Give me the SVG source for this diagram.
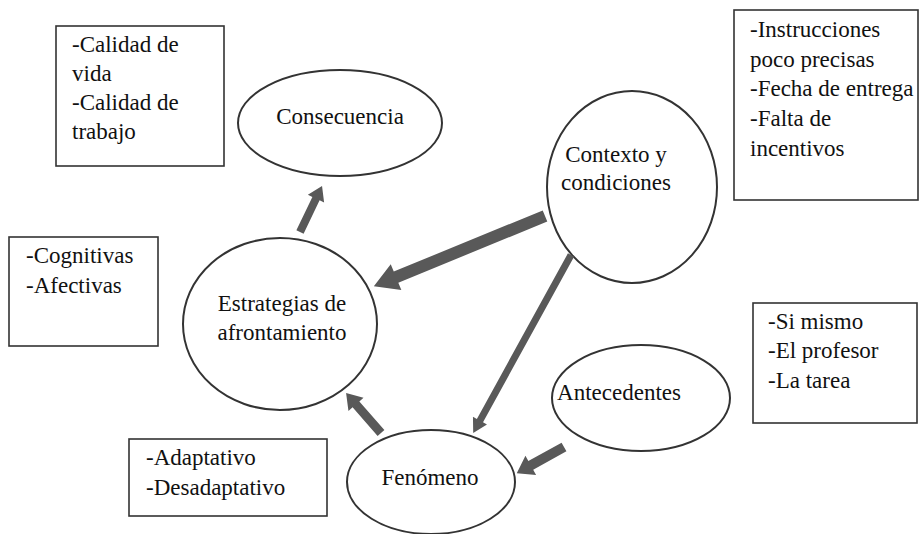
<svg xmlns="http://www.w3.org/2000/svg" width="921" height="534" viewBox="0 0 921 534" font-family="'Liberation Serif', 'DejaVu Serif', serif">
<style>
text{font-family:'Liberation Serif','DejaVu Serif',serif;font-size:23px;fill:#111}
.c{text-anchor:middle}
.ell{fill:#fff;stroke:#333;stroke-width:2}
.box{fill:#fff;stroke:#333;stroke-width:1.6}
.arr{fill:#595959}
</style>
<rect width="921" height="534" fill="#fff"/>
<g id="box-calidad"><rect class="box" x="56" y="26" width="168" height="140"/>
<text x="72" y="52">-Calidad de</text><text x="72" y="81">vida</text><text x="72" y="110">-Calidad de</text><text x="72" y="139">trabajo</text></g>
<g id="box-instrucciones"><rect class="box" x="734" y="10" width="184" height="190"/>
<text x="750" y="37">-Instrucciones</text><text x="750" y="67">poco precisas</text><text x="750" y="96">-Fecha de entrega</text><text x="750" y="126">-Falta de</text><text x="750" y="156">incentivos</text></g>
<g id="box-cognitivas"><rect class="box" x="9" y="237" width="149" height="109"/>
<text x="26" y="263">-Cognitivas</text><text x="26" y="293">-Afectivas</text></g>
<g id="box-simismo"><rect class="box" x="753" y="303" width="164" height="120"/>
<text x="768" y="329">-Si mismo</text><text x="768" y="358">-El profesor</text><text x="768" y="388">-La tarea</text></g>
<g id="box-adaptativo"><rect class="box" x="129" y="439" width="198" height="77"/>
<text x="146" y="465">-Adaptativo</text><text x="146" y="495">-Desadaptativo</text></g>
<g id="consecuencia"><ellipse class="ell" cx="340" cy="123" rx="102" ry="53"/><text class="c" x="340" y="124">Consecuencia</text></g>
<g id="estrategias"><ellipse class="ell" cx="280" cy="324" rx="97" ry="86"/><text class="c" x="282" y="311">Estrategias de</text><text class="c" x="282" y="340">afrontamiento</text></g>
<g id="contexto"><ellipse class="ell" cx="632" cy="187" rx="85" ry="96"/><text class="c" x="616" y="162">Contexto y</text><text class="c" x="616" y="190">condiciones</text></g>
<g id="antecedentes"><ellipse class="ell" cx="641" cy="398" rx="89" ry="53"/><text class="c" x="619" y="400">Antecedentes</text></g>
<g id="fenomeno"><ellipse class="ell" cx="431" cy="482" rx="84" ry="52"/><text class="c" x="430" y="485">Fenómeno</text></g>
<g id="connectors">
<polygon class="arr" transform="translate(300,232) rotate(-64.4)" points="0,-4 37,-4 37,-9 51,0 37,9 37,4 0,4"/>
<polygon class="arr" transform="translate(545,216) rotate(157.7)" points="0,-6 161,-6 161,-14 185,0 161,14 161,6 0,6"/>
<polygon class="arr" transform="translate(571,255) rotate(118.8)" points="0,-3.5 189,-3.5 189,-8 203,0 189,8 189,3.5 0,3.5"/>
<polygon class="arr" transform="translate(381,433) rotate(-131.2)" points="0,-4.5 38,-4.5 38,-10 53,0 38,10 38,4.5 0,4.5"/>
<polygon class="arr" transform="translate(564,447) rotate(151)" points="0,-5 38,-5 38,-11 54,0 38,11 38,5 0,5"/>
</g>
</svg>
